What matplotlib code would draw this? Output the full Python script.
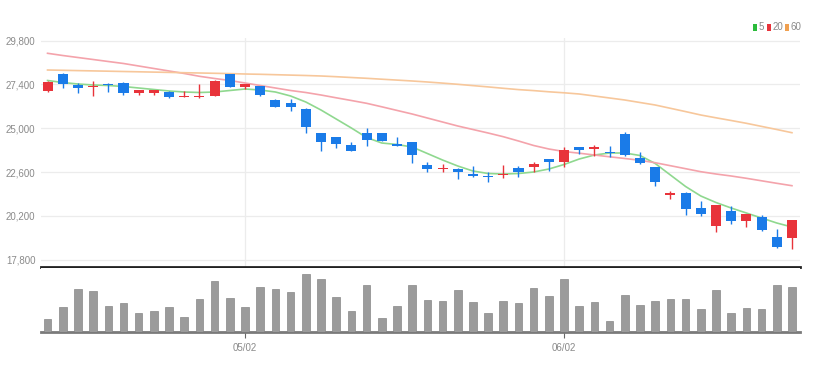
import matplotlib
matplotlib.use("Agg")
import matplotlib.pyplot as plt
from matplotlib.patches import Rectangle
import numpy as np

plt.rcParams["font.family"] = ["Liberation Sans Narrow", "Liberation Sans", "DejaVu Sans"]

# daily candles (open, high, low, close)
opens = [27044, 27959, 27372, 27250, 27427, 27466, 26950, 26960, 26989, 26720,
         26700, 26786, 27975, 27279, 27317, 26550, 26370, 26041, 24725, 24539,
         24068, 24725, 24725, 24139, 24265, 23005, 22750, 22769, 22512, 22386,
         22424, 22808, 22862, 23300, 23136, 23991, 23882, 23700, 24671, 23355,
         22895, 21344, 21434, 20615, 19646, 20484, 19903, 20122, 19060, 18971]
highs = [27600, 28046, 27498, 27592, 27466, 27537, 27100, 27110, 27050, 27027,
         27427, 27663, 28000, 27450, 27340, 26622, 26589, 26096, 24725, 24539,
         24265, 24999, 24725, 24539, 24265, 23170, 23060, 22800, 22950, 22600,
         23000, 22950, 23170, 23300, 23991, 24000, 24060, 24010, 24780, 23718,
         22895, 21580, 21525, 21032, 20780, 20740, 20303, 20250, 19465, 20000]
lows = [27000, 27192, 26950, 26770, 27005, 26841, 26824, 26850, 26650, 26698,
        26680, 26786, 27250, 27180, 26780, 26150, 25964, 24758, 23756, 23904,
        23772, 24030, 24320, 24030, 23114, 22621, 22621, 22205, 22330, 22040,
        22260, 22350, 22621, 22680, 22895, 23591, 23480, 23430, 23480, 23043,
        21838, 21125, 20248, 20210, 19317, 19755, 19610, 19370, 18423, 18400]
closes = [27553, 27427, 27192, 27320, 27356, 26950, 27082, 27082, 26698, 26770,
          26760, 27592, 27279, 27410, 26808, 26183, 26150, 25054, 24249, 24139,
          23772, 24359, 24320, 24046, 23536, 22786, 22830, 22588, 22386, 22315,
          22495, 22621, 23043, 23170, 23810, 23810, 23955, 23630, 23536, 23115,
          22073, 21434, 20560, 20303, 20780, 19920, 20303, 19427, 18511, 19975]

ma5 = [27619, 27509, 27427, 27372, 27345, 27290, 27208, 27126, 27044, 26989,
       26961, 26989, 27071, 27153, 27098, 26989, 26770, 26441, 26002, 25509,
       25016, 24495, 24194, 24112, 23975, 23619, 23262, 22934, 22660, 22523,
       22495, 22523, 22605, 22769, 23016, 23317, 23536, 23646, 23646, 23509,
       23071, 22440, 21810, 21290, 20933, 20632, 20358, 20084, 19810, 19591]
ma20 = [29110, 28989, 28879, 28770, 28660, 28551, 28414, 28277, 28140, 28003,
        27849, 27729, 27619, 27482, 27345, 27208, 27071, 26961, 26824, 26671,
        26523, 26370, 26178, 25980, 25783, 25564, 25345, 25126, 24934, 24742,
        24539, 24304, 24057, 23865, 23728, 23635, 23536, 23438, 23345, 23246,
        23114, 22950, 22786, 22621, 22495, 22386, 22260, 22123, 21986, 21854]
ma60 = [28194, 28178, 28161, 28145, 28129, 28112, 28096, 28079, 28063, 28046,
        28030, 28014, 27997, 27975, 27959, 27937, 27915, 27893, 27866, 27827,
        27783, 27740, 27690, 27641, 27592, 27537, 27476, 27411, 27339, 27268,
        27192, 27120, 27065, 27000, 26945, 26879, 26770, 26660, 26550, 26413,
        26276, 26096, 25915, 25728, 25575, 25427, 25274, 25104, 24934, 24758]

volumes = [35, 70, 120, 116, 72, 80, 52, 60, 70, 42,
           92, 143, 95, 70, 125, 120, 113, 162, 147, 97,
           60, 132, 40, 72, 132, 90, 87, 117, 85, 52,
           87, 82, 122, 102, 147, 74, 85, 32, 103, 75,
           86, 92, 92, 65, 117, 52, 66, 65, 132, 127]

date_ticks = [13, 34]
date_labels = ["05/02", "06/02"]
price_ticks = [17800, 20200, 22600, 25000, 27400, 29800]
ma_labels = ["5", "20", "60"]
ma_key_colors = ["#2bbb3b", "#e8333a", "#f0a050"]

UP = "#e8333a"
DOWN = "#1a7be8"
GREY_TXT = "#8a8a8a"

fig = plt.figure(figsize=(8.16, 3.70), dpi=100)
ax = fig.add_axes([41 / 816, 103 / 370, 759 / 816, 229 / 370])
axv = fig.add_axes([41 / 816, 38 / 370, 759 / 816, 64 / 370])

x = np.arange(len(opens))
o = np.array(opens)
c = np.array(closes)
up = c >= o
col = np.where(up, UP, DOWN)

ax.vlines(x, lows, highs, colors=col, lw=1.0, zorder=3)
body = np.maximum(np.abs(c - o), 70)
ax.bar(x, body, bottom=np.minimum(o, c), width=0.66, color=col, lw=0, zorder=4)

ax.plot(x, ma5, color="#8fd88f", lw=1.2, zorder=2)
ax.plot(x, ma20, color="#f4a3ab", lw=1.2, zorder=2)
ax.plot(x, ma60, color="#f7c79b", lw=1.2, zorder=2)

ax.set_xlim(-0.43, 49.53)
ax.set_ylim(17399, 29948)
ax.set_yticks(price_ticks)
ax.set_yticklabels([f"{v:,}" for v in price_ticks])
ax.set_xticks(date_ticks)
ax.tick_params(axis="x", length=0, labelbottom=False)
ax.tick_params(axis="y", length=0, labelsize=7, colors=GREY_TXT, pad=4)
ax.grid(True, color="#ececec", lw=0.9, zorder=0)
for s in ["top", "left", "right"]:
    ax.spines[s].set_visible(False)
ax.spines["bottom"].set_color("#222222")
ax.spines["bottom"].set_linewidth(2.0)

axv.bar(x, volumes, width=0.5, color="#9b9b9b", edgecolor="#888888", lw=0.5, zorder=3)
axv.set_xlim(-0.43, 49.53)
axv.set_ylim(0, 179)
axv.set_yticks([])
axv.set_xticks(date_ticks)
axv.set_xticklabels(date_labels)
axv.tick_params(axis="x", length=4, width=0.8, color="#666666", labelsize=7,
                labelcolor=GREY_TXT, pad=4)
for s in ["top", "left", "right"]:
    axv.spines[s].set_visible(False)
axv.spines["bottom"].set_color("#7a7a7a")
axv.spines["bottom"].set_linewidth(2.0)

# MA key, top right
W, H = 816.0, 370.0
key_x = 753
for lab, colr in zip(ma_labels, ma_key_colors):
    fig.add_artist(Rectangle((key_x / W, 1 - 31 / H), 4 / W, 7 / H,
                             transform=fig.transFigure, color=colr, lw=0))
    fig.text((key_x + 5.5) / W, 1 - 27.5 / H, lab, color=GREY_TXT, fontsize=7,
             va="center", ha="left")
    key_x += 6.5 + 4.2 * len(lab) + 3

fig.savefig("out.png", dpi=100, facecolor="white")
